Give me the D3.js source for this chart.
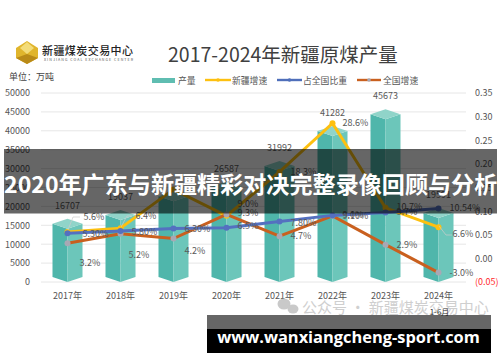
<!DOCTYPE html>
<html>
<head>
<meta charset="utf-8">
<script src="https://cdnjs.cloudflare.com/ajax/libs/d3/7.8.5/d3.min.js"></script>
<style>
  html, body { margin: 0; padding: 0; background: #fff; }
  svg { display: block; }
  text { font-family: "Noto Sans CJK SC", "Noto Sans", sans-serif; }
</style>
</head>
<body>
<div id="chart"></div>
<script>
const years = ["2017年", "2018年", "2019年", "2020年", "2021年", "2022年", "2023年", "2024年"];
const output = [16707, 19037, 24000, 26587, 31992, 41282, 45673, 19591];
const xjGrowth = [0.056, 0.064, 0.146, 0.09, 0.183, 0.286, 0.107, 0.066];
const share = [0.053, 0.058, 0.063, 0.065, 0.078, 0.091, 0.097, 0.1054];
const cnGrowth = [0.032, 0.052, 0.042, 0.093, 0.047, 0.09, 0.029, -0.03];
const xjLabels = ["5.6%", "6.4%", "", "9.0%", "18.3%", "28.6%", "10.7%", "6.6%"];
const shareLabels = ["5.30%", "5.80%", "6.30%", "6.5%", "7.80%", "9.10%", "9.7%", "10.54%"];
const cnLabels = ["3.2%", "5.2%", "4.2%", "9.3%", "4.7%", "9.0%", "2.9%", "-3.0%"];
const leftTicks = [0, 5000, 10000, 15000, 20000, 25000, 30000, 35000, 40000, 45000, 50000];
const rightTicks = [-0.05, 0, 0.05, 0.1, 0.15, 0.2, 0.25, 0.3, 0.35];

const svg = d3.select("#chart").append("svg").attr("width", 500).attr("height", 362);

const x = d3.scaleBand().domain(years).range([41, 465]);
const yL = d3.scaleLinear().domain([0, 50000]).range([282, 93]);
const yR = d3.scaleLinear().domain([-0.05, 0.35]).range([282, 93]);
const cx = (d) => x(d) + x.bandwidth() / 2;

// titulo e logo
svg.append("text").attr("x", 168).attr("y", 62).attr("font-size", 19.5).attr("fill", "#404040").text("2017-2024年新疆原煤产量");
svg.append("text").attr("x", 9).attr("y", 80).attr("font-size", 9).attr("fill", "#444").text("单位：万吨");

const logo = svg.append("g");
logo.append("path").attr("d", "M16 48L27 41L38 48V58L27 64L16 58Z").attr("fill", "#e0b52c");
logo.append("path").attr("d", "M20 48L27 42L34 48L27 54Z").attr("fill", "#f3dc7a");
logo.append("path").attr("d", "M16 58L27 54L38 58L27 64Z").attr("fill", "#b98a18");
logo.append("text").attr("x", 42).attr("y", 55).attr("font-size", 11).attr("font-weight", 500).attr("textLength", 91).attr("fill", "#222").text("新疆煤炭交易中心");
logo.append("text").attr("x", 44).attr("y", 60.8).attr("font-size", 3.6).attr("textLength", 89).attr("fill", "#555").text("XINJIANG COAL EXCHANGE CENTER");

// legenda
const legend = svg.append("g").attr("font-size", 8.8).attr("fill", "#555");
legend.append("rect").attr("x", 152).attr("y", 78).attr("width", 23).attr("height", 5).attr("fill", "#5fbdb1");
legend.append("text").attr("x", 178).attr("y", 84).text("产量");
[[205, 231, "#fdc010", "新疆增速", 232, "#fdc010"], [277, 302, "#4f6fba", "占全国比重", 303, "#4f6fba"], [357, 381, "#c9601f", "全国增速", 383, "#a8a8b4"]].forEach((l) => {
  legend.append("line").attr("x1", l[0]).attr("x2", l[1]).attr("y1", 80).attr("y2", 80).attr("stroke", l[2]).attr("stroke-width", 2.4);
  legend.append("circle").attr("cx", (l[0] + l[1]) / 2).attr("cy", 80).attr("r", 1.8).attr("fill", l[5]);
  legend.append("text").attr("x", l[4]).attr("y", 84).text(l[3]);
});

// grade e eixos
svg.append("g").selectAll("line").data(leftTicks).enter().append("line")
  .attr("x1", 41).attr("x2", 466)
  .attr("y1", (d) => yL(d)).attr("y2", (d) => yL(d))
  .attr("stroke", "#e6e6e6").attr("stroke-width", 1);

const axisL = svg.append("g").attr("transform", "translate(33,0)")
  .call(d3.axisLeft(yL).tickValues(leftTicks).tickSize(0).tickFormat((d) => d));
const axisR = svg.append("g").attr("transform", "translate(475,0)")
  .call(d3.axisRight(yR).tickValues(rightTicks).tickSize(0).tickPadding(0)
    .tickFormat((d) => (d < 0 ? "(" + d3.format(".2f")(-d) + ")" : d3.format(".2f")(d))));
const axisB = svg.append("g").attr("transform", "translate(0,293)")
  .call(d3.axisBottom(x).tickSize(0).tickPadding(0));
[axisL, axisR, axisB].forEach((a) => {
  a.select(".domain").remove();
  a.selectAll("text").attr("font-size", 9).attr("fill", "#555").style("font-family", '"Noto Sans CJK SC", sans-serif');
});
axisR.selectAll("text").filter((d) => d < 0).attr("fill", "#ff2a2a");

// marca d'agua (fica atras do rotulo 1-6月)
const mark = svg.append("g").attr("fill", "#c9c9c9");
mark.append("ellipse").attr("cx", 284).attr("cy", 304).attr("rx", 6.5).attr("ry", 5.5);
mark.append("ellipse").attr("cx", 293).attr("cy", 309).attr("rx", 5.5).attr("ry", 4.5);
mark.append("text").attr("x", 302).attr("y", 313).attr("font-size", 15).attr("fill", "#cfcfcf").text("公众号 · 新疆煤炭交易中心");
svg.append("text").attr("x", 439.5).attr("y", 315).attr("font-size", 8).attr("text-anchor", "middle").attr("fill", "#333").text("1-6月");

// barras em prisma
const half = 15;
const lift = 5;
const bars = svg.append("g").selectAll("g").data(years).enter().append("g");
bars.append("path").attr("fill", "#4fb6ab").attr("d", (d, i) => {
  const c = cx(d), t = yL(output[i]);
  return `M${c - half} ${t + lift}L${c} ${t + 2 * lift}V${yL(0)}L${c - half} ${yL(0) - lift}Z`;
});
bars.append("path").attr("fill", "#6cc6ba").attr("d", (d, i) => {
  const c = cx(d), t = yL(output[i]);
  return `M${c + half} ${t + lift}L${c} ${t + 2 * lift}V${yL(0)}L${c + half} ${yL(0) - lift}Z`;
});
bars.append("path").attr("fill", "#90d4c9").attr("d", (d, i) => {
  const c = cx(d), t = yL(output[i]);
  return `M${c} ${t}L${c + half} ${t + lift}L${c} ${t + 2 * lift}L${c - half} ${t + lift}Z`;
});

// linhas
const lineFor = (vals) => d3.line().x((d) => cx(d)).y((d, i) => yR(vals[i]))(years);
const drawLine = (vals, color, dot, r) => {
  svg.append("path").attr("d", lineFor(vals)).attr("fill", "none").attr("stroke", color).attr("stroke-width", 3);
  svg.append("g").selectAll("circle").data(years).enter().append("circle")
    .attr("cx", (d) => cx(d)).attr("cy", (d, i) => yR(vals[i])).attr("r", r).attr("fill", dot);
};
drawLine(xjGrowth, "#fdc010", "#fdc010", 3);
drawLine(cnGrowth, "#c9601f", "#a8a8b4", 3);
drawLine(share, "#5470c0", "#5470c0", 3);

// rotulos
const labels = svg.append("g").attr("font-size", 9).attr("fill", "#595959");
labels.selectAll(".v").data(years).enter().append("text").attr("class", "v")
  .attr("x", (d) => cx(d)).attr("y", (d, i) => yL(output[i]) - 10)
  .attr("text-anchor", "middle").text((d, i) => (i === 2 ? "" : output[i]));
const lab = (arr, dx, py) => labels.append("g").selectAll("text").data(years).enter().append("text")
  .attr("x", (d, i) => cx(d) + dx[i]).attr("y", (d, i) => py[i]).text((d, i) => arr[i]);
lab(xjLabels, [16, 15, 0, 11, 11, 10, 11, 14], [220, 219, 0, 207, 175, 126, 210, 237]);
lab(shareLabels, [15, 11, 11, 11, 11, 10, 11, 11], [237, 235, 232, 229, 226, 219, 215, 211]);
lab(cnLabels, [12, 8, 11, 11, 11, 10, 11, 11], [266, 258, 254, 216, 239, 218, 248, 276]);

// linhas-guia dos rotulos
svg.append("path").attr("d", "M68 230L73 217H80M121 227L127 216H132M439 226L446 235H452").attr("fill", "none").attr("stroke", "#ccc").attr("stroke-width", 0.7);

// faixas
svg.append("rect").attr("x", 4).attr("y", 149).attr("width", 493).attr("height", 64.5).attr("fill", "#000").attr("fill-opacity", 0.6);
svg.append("text").attr("x", 4).attr("y", 193).attr("font-size", 23.1).attr("font-weight", 700).attr("fill", "#fff").text("2020年广东与新疆精彩对决完整录像回顾与分析");
svg.append("rect").attr("x", 207).attr("y", 315).attr("width", 284).attr("height", 38).attr("fill", "#000").attr("fill-opacity", 0.6);
svg.append("rect").attr("x", 207).attr("y", 329).attr("width", 284).attr("height", 24).attr("fill", "#000");
svg.append("text").attr("x", 348.5).attr("y", 342.5).attr("font-size", 16.4).attr("font-weight", 700).attr("fill", "#fff").attr("text-anchor", "middle").style("font-family", '"Open Sans", sans-serif').text("www.wanxiangcheng-sport.com");
</script>
</body>
</html>
